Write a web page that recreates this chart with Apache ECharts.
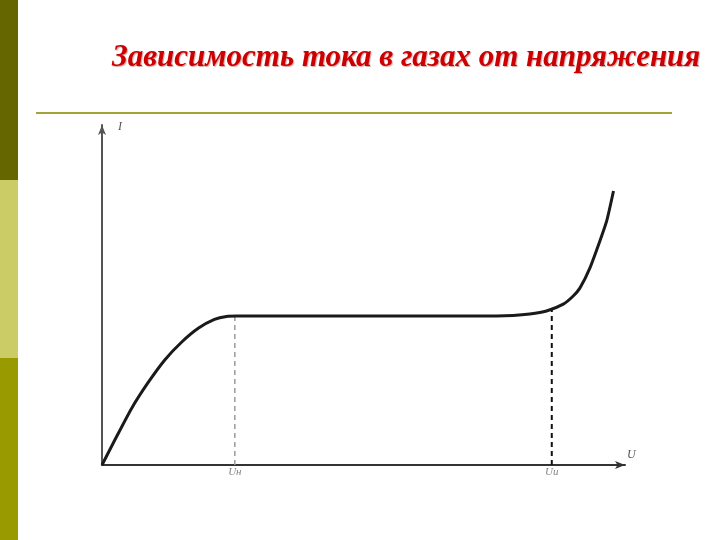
<!DOCTYPE html>
<html>
<head>
<meta charset="utf-8">
<script src="https://cdn.jsdelivr.net/npm/echarts@6/dist/echarts.min.js"></script>
<style>
  html, body { margin: 0; padding: 0; background: #fff; }
  #chart { width: 720px; height: 540px; }
</style>
</head>
<body>
<div id="chart"></div>
<script>
// I(U) curve, U and I in arbitrary units (0..100)
var curveU = [0, 2.4, 5.6, 8.8, 12.0, 15.2, 18.4, 21.5, 23.8, 25.8, 50, 72.3, 78.6, 81.8, 85.0, 88.2, 90.1, 91.4, 93.3, 95.2, 96.5, 97.8];
var curveI = [0, 7.2, 16.5, 24.2, 30.9, 36.1, 40.2, 42.8, 43.7, 43.8, 43.8, 43.8, 44.0, 44.4, 45.3, 47.3, 49.7, 52.1, 58.0, 65.9, 71.8, 80.6];

var markNames = ['Uн', 'Uи'];
var markU = [25.4, 86.0];
var markI = [43.8, 45.7];

var chart = echarts.init(document.getElementById('chart'));

var curveData = curveU.map(function (u, i) { return [u, curveI[i]]; });

var option = {
  backgroundColor: '#ffffff',
  animation: false,
  title: {
    text: 'Зависимость тока в газах от напряжения',
    left: 107,
    top: 37,
    textStyle: {
      fontFamily: 'Liberation Serif',
      fontStyle: 'italic',
      fontWeight: 'bold',
      fontSize: 31,
      color: '#cc0000',
      textShadowColor: 'rgba(120,0,0,0.35)',
      textShadowOffsetX: 1,
      textShadowOffsetY: 1,
      textShadowBlur: 1
    }
  },
  graphic: [
    { type: 'rect', shape: { x: 0, y: 0, width: 18, height: 180 }, style: { fill: '#666600' } },
    { type: 'rect', shape: { x: 0, y: 180, width: 18, height: 178 }, style: { fill: '#cccc66' } },
    { type: 'rect', shape: { x: 0, y: 358, width: 18, height: 182 }, style: { fill: '#999900' } },
    { type: 'line', shape: { x1: 36, y1: 113, x2: 672, y2: 113 }, style: { stroke: '#a3a33a', lineWidth: 2 } }
  ],
  grid: { left: 102, right: 95, top: 125, bottom: 75 },
  xAxis: {
    type: 'value',
    min: 0,
    max: 100,
    name: 'U',
    nameLocation: 'end',
    nameGap: 2,
    nameTextStyle: { fontFamily: 'Liberation Serif', fontStyle: 'italic', fontSize: 12, color: '#555', verticalAlign: 'bottom', padding: [0, 0, 4, 0] },
    axisLine: { lineStyle: { color: '#333', width: 2 }, symbol: ['none', 'arrow'], symbolSize: [6, 10] },
    axisTick: { show: false },
    axisLabel: { show: false },
    splitLine: { show: false }
  },
  yAxis: {
    type: 'value',
    min: 0,
    max: 100,
    name: 'I',
    nameLocation: 'end',
    nameGap: -8,
    nameTextStyle: { fontFamily: 'Liberation Serif', fontStyle: 'italic', fontSize: 12, color: '#555', padding: [0, 0, 0, 36] },
    axisLine: { lineStyle: { color: '#555', width: 2 }, symbol: ['none', 'arrow'], symbolSize: [6, 10] },
    axisTick: { show: false },
    axisLabel: { show: false },
    splitLine: { show: false }
  },
  series: [
    {
      type: 'line',
      data: curveData,
      smooth: 0.2,
      showSymbol: false,
      lineStyle: { color: '#1a1a1a', width: 3 },
      z: 5
    },
    {
      type: 'line',
      data: [[markU[0], 0], [markU[0], markI[0]]],
      showSymbol: false,
      lineStyle: { color: '#999', width: 1.5, type: [5, 4] },
      z: 3
    },
    {
      type: 'line',
      data: [[markU[1], 0], [markU[1], markI[1]]],
      showSymbol: false,
      lineStyle: { color: '#111', width: 2, type: [5, 4] },
      z: 3
    },
    {
      type: 'scatter',
      data: markU.map(function (u, i) { return { value: [u, 0], name: markNames[i] }; }),
      symbolSize: 0,
      label: {
        show: true,
        position: 'bottom',
        distance: 2,
        formatter: '{b}',
        fontFamily: 'Liberation Serif',
        fontStyle: 'italic',
        fontSize: 11,
        color: '#666'
      }
    }
  ]
};

chart.setOption(option);
</script>
</body>
</html>
